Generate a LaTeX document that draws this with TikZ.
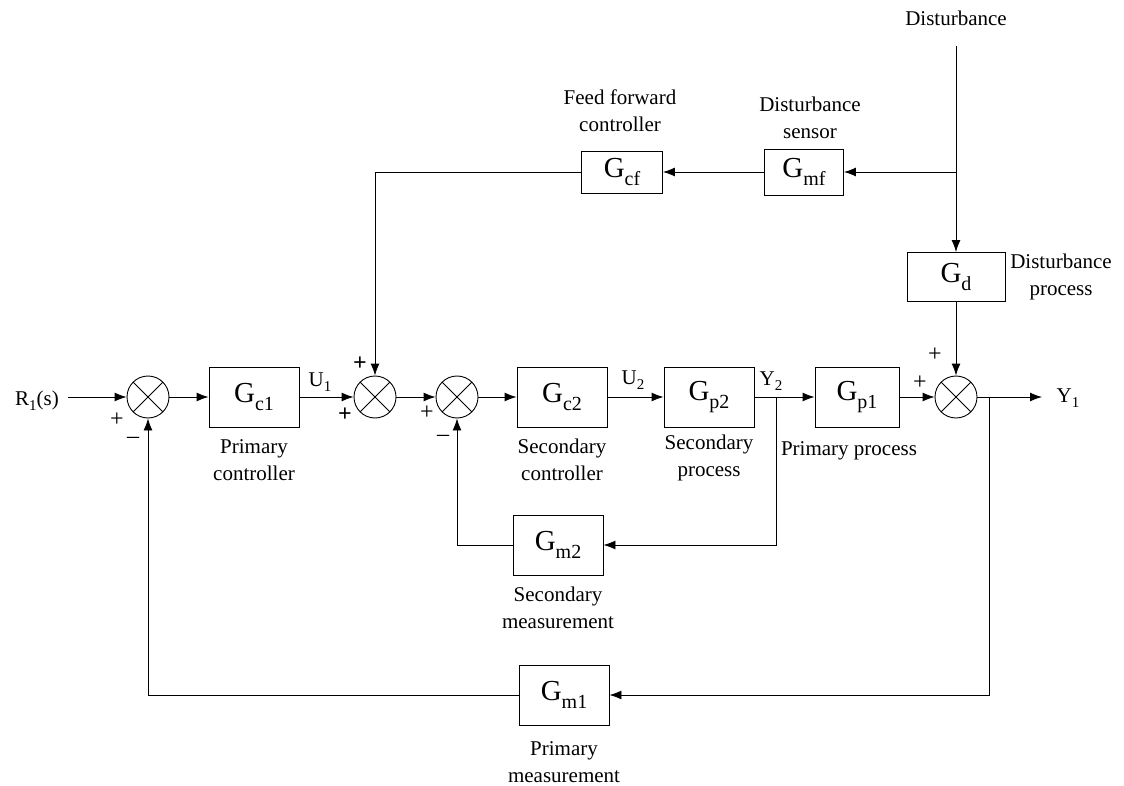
\documentclass[tikz,border=0pt]{standalone}
\usepackage{fontspec}
\setmainfont{Liberation Serif}
\usetikzlibrary{arrows.meta,positioning}
\newcommand{\GG}[1]{{\fontsize{29}{29}\selectfont G}\raisebox{-8pt}{\fontsize{20}{20}\selectfont #1}}
\newcommand{\lbl}[2]{#1\raisebox{-5pt}{\fontsize{15}{15}\selectfont #2}}
\begin{document}
\begin{tikzpicture}[x=1pt,y=-1pt,
  every node/.style={font=\fontsize{21}{27}\selectfont},
  arr/.style={line width=0.9pt,-{Latex[length=12pt,width=9pt]}},
  blk/.style={draw,line width=0.9pt,minimum width=90pt,minimum height=60pt,inner sep=0pt},
  sum/.style={draw,circle,line width=0.9pt,minimum size=42pt,inner sep=0pt,
    path picture={\draw[line width=0.9pt] (path picture bounding box.center) +(-15,-15) -- +(15,15) +(-15,15) -- +(15,-15);}},
  txt/.style={align=center,inner sep=0pt},
  sgn/.style={inner sep=0pt,font=\fontsize{24}{24}\selectfont}]
\useasboundingbox (0,0) rectangle (1124,786);
% summing junctions
\node[sum] (s1) at (148,397) {};
\node[sum] (s2) at (375,397) {};
\node[sum] (s3) at (457,397) {};
\node[sum] (s4) at (956,397) {};
% blocks
\node[blk] (gc1) at (254,397) {\GG{c1}};
\node[blk] (gc2) at (562,397) {\GG{c2}};
\node[blk] (gp2) at (709,397) {\GG{p2}};
\node[blk,minimum width=84pt] (gp1) at (857,397) {\GG{p1}};
\node[blk,minimum width=98pt,minimum height=49pt] (gd) at (956,277) {\GG{d}};
\node[blk,minimum width=79pt,minimum height=46pt] (gmf) at (804,172) {\GG{mf}};
\node[blk,minimum width=81pt,minimum height=42pt] (gcf) at (622,172) {\GG{cf}};
\node[blk] (gm2) at (558,545) {\GG{m2}};
\node[blk] (gm1) at (564,695) {\GG{m1}};
% inputs/outputs
\node[txt] (r1) at (37,401) {\lbl{R}{1}(s)};
\coordinate (r1e) at (68,397);
\node[txt] (y1) at (1068,398) {\lbl{Y}{1}};
\coordinate (y1e) at (1042,397);
\node[txt] (dist) at (956,18) {Disturbance};
\coordinate (dtop) at (956,46);
\coordinate (dbr) at (956,172);
\coordinate (j2) at (776,397);
\coordinate (j1) at (989,397);
% signal labels
\node[txt] (u1) at (320,382) {\lbl{U}{1}};
\node[txt] (u2) at (633,380) {\lbl{U}{2}};
\node[txt] (y2) at (771,381) {\lbl{Y}{2}};
% descriptions
\node[txt] (t1) at (254,460) {Primary\\controller};
\node[txt] (t2) at (562,460) {Secondary\\controller};
\node[txt] (t3) at (709,458) {Secondary\\process};
\node[txt] (t4) at (849,451) {Primary process};
\node[txt] (t5) at (558,608) {Secondary\\measurement};
\node[txt] (t6) at (564,762) {Primary\\measurement};
\node[txt] (t7) at (1061,277) {Disturbance\\process};
\node[txt] (t8) at (620,111) {Feed forward\\controller};
\node[txt] (t9) at (810,118) {Disturbance\\sensor};
% signs
\node[sgn] (p1) at (117,420) {+};
\node[sgn] (m1) at (133,440) {–};
\node[sgn] (p2) at (360,364) {\textbf{+}};
\node[sgn] (p3) at (345,415) {\textbf{+}};
\node[sgn] (p4) at (427,413) {+};
\node[sgn] (m2) at (443,438) {–};
\node[sgn] (p5) at (920,383) {+};
\node[sgn] (p6) at (935,355) {+};
% connectors
\draw[arr] (r1e) -- (s1.west);
\draw[arr] (s1.east) -- (gc1.west);
\draw[arr] (gc1.east) -- (s2.west);
\draw[arr] (s2.east) -- (s3.west);
\draw[arr] (s3.east) -- (gc2.west);
\draw[arr] (gc2.east) -- (gp2.west);
\draw[arr] (gp2.east) -- (gp1.west);
\draw[arr] (gp1.east) -- (s4.west);
\draw[arr] (s4.east) -- (y1e);
\draw[arr] (dtop) -- (gd.north);
\draw[arr] (gd.south) -- (s4.north);
\draw[arr] (dbr) -- (gmf.east);
\draw[arr] (gmf.west) -- (gcf.east);
\draw[arr] (gcf.west) -| (s2.north);
\draw[arr] (j2) |- (gm2.east);
\draw[arr] (gm2.west) -| (s3.south);
\draw[arr] (j1) |- (gm1.east);
\draw[arr] (gm1.west) -| (s1.south);
\end{tikzpicture}
\end{document}
